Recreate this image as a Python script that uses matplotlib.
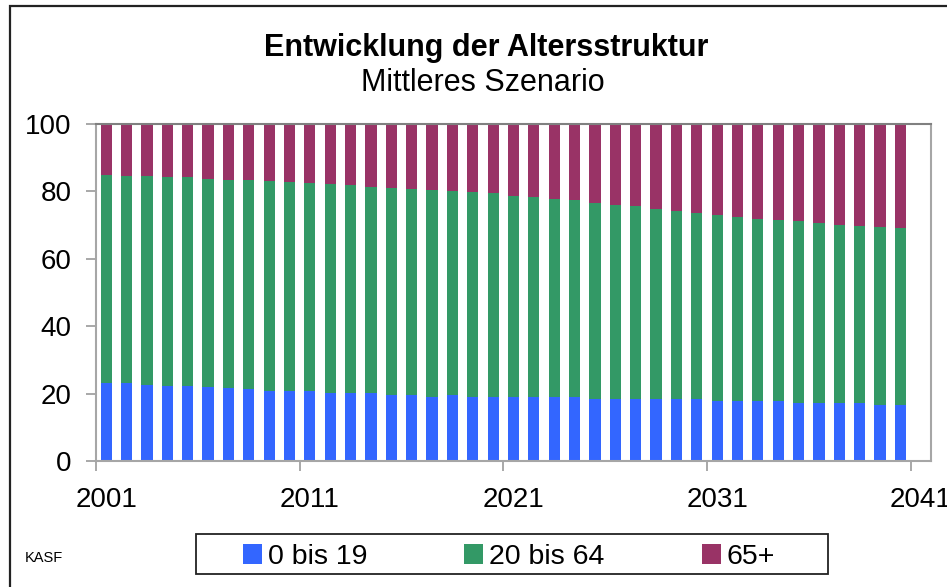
import matplotlib
matplotlib.use("Agg")
import matplotlib.pyplot as plt
from matplotlib.patches import Rectangle, Patch
import numpy as np

plt.rcParams['font.family'] = ['Liberation Sans', 'DejaVu Sans']

years = list(range(2001, 2042))  # 41 categories, last one empty
young = [23.2, 23.0, 22.6, 22.4, 22.4, 22.0, 21.8, 21.4, 20.8, 20.8,
         20.7, 20.3, 20.1, 20.1, 19.7, 19.5, 19.1, 19.5, 18.9, 19.1,
         18.9, 18.9, 18.9, 18.9, 18.5, 18.5, 18.5, 18.5, 18.3, 18.3,
         17.9, 17.9, 17.7, 17.7, 17.1, 17.3, 17.1, 17.1, 16.5, 16.5]
working = [61.7, 61.7, 62.1, 61.9, 61.9, 61.7, 61.7, 62.1, 62.3, 62.1,
           61.8, 62.0, 61.8, 61.2, 61.4, 61.2, 61.4, 60.6, 61.0, 60.4,
           59.8, 59.5, 58.9, 58.6, 58.1, 57.5, 57.2, 56.3, 55.9, 55.3,
           55.1, 54.5, 54.1, 53.8, 54.1, 53.4, 53.0, 52.7, 53.0, 52.7]
old = [15.1, 15.3, 15.3, 15.7, 15.7, 16.3, 16.5, 16.5, 16.9, 17.1,
       17.5, 17.7, 18.1, 18.7, 18.9, 19.3, 19.5, 19.9, 20.1, 20.5,
       21.3, 21.6, 22.2, 22.5, 23.4, 24.0, 24.3, 25.2, 25.8, 26.4,
       27.0, 27.6, 28.2, 28.5, 28.8, 29.3, 29.9, 30.2, 30.5, 30.8]
series_labels = ["0 bis 19", "20 bis 64", "65+"]
colors = ["#3366FF", "#339966", "#993366"]
x_tick_labels = ["2001", "2011", "2021", "2031", "2041"]
y_ticks = [0, 20, 40, 60, 80, 100]

W, H = 947, 587
fig = plt.figure(figsize=(W / 100, H / 100), dpi=100)
ax = fig.add_axes([96 / W, 1 - 461 / H, (931 - 96) / W, (461 - 124) / H])

x = np.arange(len(young))
young_a = np.array(young)
working_a = np.array(working)
old_a = np.array(old)
bw = 0.55
ax.bar(x, young_a, width=bw, color=colors[0], label=series_labels[0])
ax.bar(x, working_a, width=bw, bottom=young_a, color=colors[1], label=series_labels[1])
ax.bar(x, old_a, width=bw, bottom=young_a + working_a, color=colors[2], label=series_labels[2])

ax.set_xlim(-0.5, len(years) - 0.5)
ax.set_ylim(0, 100)

# major ticks at category boundaries, labels on minor ticks at category centres
ax.set_xticks([i - 0.5 for i in range(0, 41, 10)])
ax.set_xticklabels([])
ax.set_xticks([years.index(int(l)) for l in x_tick_labels], minor=True)
ax.set_xticklabels(x_tick_labels, minor=True, fontsize=20)
ax.tick_params(axis='x', which='major', length=7.2, width=1.2, color='#999999', direction='out')
ax.tick_params(axis='x', which='minor', length=0, pad=19)

ax.set_yticks(y_ticks)
ax.set_yticklabels([str(v) for v in y_ticks], fontsize=20)
ax.tick_params(axis='y', length=7.2, width=1.2, color='#999999', pad=10.5)

for s in ['left', 'bottom', 'right']:
    ax.spines[s].set_color('#a6a6a6')
    ax.spines[s].set_linewidth(1.5)
ax.spines['top'].set_color('#808080')
ax.spines['top'].set_linewidth(1.5)

# titles
fig.text(486 / W, 1 - 55.7 / H, "Entwicklung der Altersstruktur", ha='center', va='baseline',
         fontsize=22, fontweight='bold')
fig.text(483 / W, 1 - 91 / H, "Mittleres Szenario", ha='center', va='baseline', fontsize=22)

fig.text(25 / W, 1 - 558 / H, "KASF", ha='left', va='center', fontsize=10.5)

# legend
handles = [Patch(facecolor=c, edgecolor='none') for c in colors]
fig.legend(handles, series_labels, loc='center', bbox_to_anchor=(509 / W, 1 - 557 / H),
           ncol=3, frameon=False, fontsize=20.5, handlelength=0.67, handleheight=0.67,
           handletextpad=0.21, columnspacing=3.4, borderpad=0)
fig.patches.append(Rectangle((196 / W, 1 - 574 / H), (828 - 196) / W, (574 - 534) / H,
                             transform=fig.transFigure, fill=False, edgecolor='#222222', linewidth=1.3))

# outer chart border
fig.patches.append(Rectangle((10 / W, -0.05), 1.0, 1 - 6 / H + 0.05,
                             transform=fig.transFigure, fill=False, edgecolor='#222222', linewidth=1.6))

fig.savefig("out.png", dpi=100)
